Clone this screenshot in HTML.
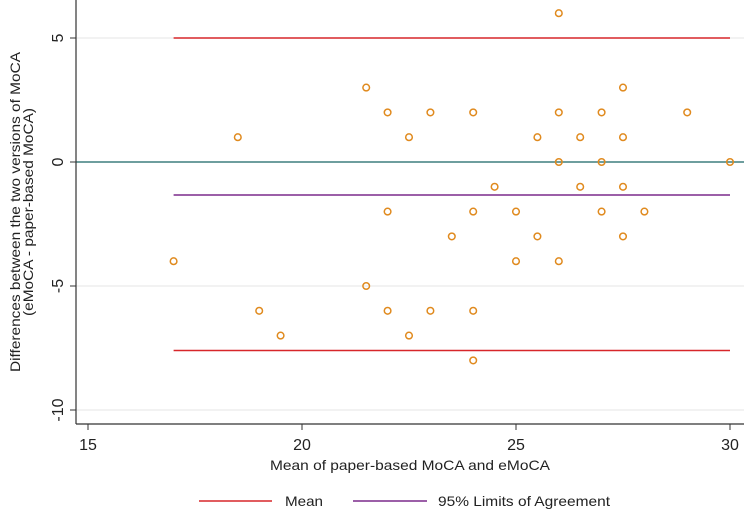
<!DOCTYPE html>
<html><head><meta charset="utf-8"><style>
body{margin:0;background:#fff;}
svg{display:block;font-family:"Liberation Sans",Arial,sans-serif;}
</style></head><body>
<svg id="chart" width="744" height="512">
<g id="grid"></g>
<g id="refs"></g>
<g id="pts"></g>
<g id="axes"></g>
<text x="270" y="470" font-size="14" textLength="280" lengthAdjust="spacingAndGlyphs" fill="#222">Mean of paper-based MoCA and eMoCA</text>
<g transform="translate(0,212) rotate(-90)">
<text x="0" y="20" text-anchor="middle" font-size="14" textLength="320" lengthAdjust="spacingAndGlyphs" fill="#222">Differences between the two versions of MoCA</text>
<text x="0" y="33" text-anchor="middle" font-size="14" textLength="208" lengthAdjust="spacingAndGlyphs" fill="#222">(eMoCA - paper-based MoCA)</text>
</g>
<g>
<g><line x1="199" y1="501" x2="272" y2="501" stroke="#d7262a" stroke-width="1.5"/><text x="285" y="506" font-size="14" textLength="38" lengthAdjust="spacingAndGlyphs" fill="#222">Mean</text></g>
<g><line x1="353" y1="501" x2="427" y2="501" stroke="#7b2a8c" stroke-width="1.5"/><text x="438" y="506" font-size="14" textLength="172" lengthAdjust="spacingAndGlyphs" fill="#222">95% Limits of Agreement</text></g>
</g>
</svg>
<script>
const xTicks=[15,20,25,30];
const yTicks=[5,0,-5,-10];
const meanX=[17,18.5,19,19.5,21.5,21.5,22,22,22,22.5,22.5,23,23,23.5,24,24,24,24,24.5,25,25,25.5,25.5,26,26,26,26,26.5,26.5,27,27,27,27.5,27.5,27.5,27.5,28,29,30];
const diffY=[-4,1,-6,-7,3,-5,2,-2,-6,1,-7,2,-6,-3,2,-2,-6,-8,-1,-2,-4,1,-3,6,2,0,-4,1,-1,2,0,-2,3,1,-1,-3,-2,2,0];
const upperLimit=[5];
const lowerLimit=[-7.6];
const meanDiff=[-1.33];
const lineRange=[17,30];
const NS="http://www.w3.org/2000/svg";
const sx=v=>88+(v-15)*42.8;
const sy=v=>162-v*24.8;
function mk(tag,attrs,parent){const e=document.createElementNS(NS,tag);for(const k in attrs)e.setAttribute(k,attrs[k]);parent.appendChild(e);return e;}
const grid=document.getElementById('grid'),refs=document.getElementById('refs'),pts=document.getElementById('pts'),axes=document.getElementById('axes');
yTicks.forEach(t=>{const l=mk('line',{x1:76,x2:744,y1:sy(t),y2:sy(t),stroke:'#e6e6e6','stroke-width':1},grid);

});
const zl=mk('line',{x1:76,x2:744,y1:sy(0),y2:sy(0),stroke:'#3f7f7f','stroke-width':1.5},refs);


[[upperLimit[0],'#d7262a','upper-limit-line'],[lowerLimit[0],'#d7262a','lower-limit-line'],[meanDiff[0],'#7b2a8c','mean-difference-line']].forEach(([v,c,n])=>{
const l=mk('line',{x1:sx(lineRange[0]),x2:sx(lineRange[1]),y1:sy(v),y2:sy(v),stroke:c,'stroke-width':1.5},refs);

});
meanX.forEach((x,i)=>{const c=mk('circle',{cx:sx(x),cy:sy(diffY[i]),r:3.3,fill:'none',stroke:'#e08a1e','stroke-width':1.5},pts);

});
mk('line',{x1:76,x2:76,y1:0,y2:424,stroke:'#333','stroke-width':1.2},axes);
mk('line',{x1:76,x2:744,y1:424,y2:424,stroke:'#333','stroke-width':1.2},axes);
xTicks.forEach(t=>{mk('line',{x1:sx(t),x2:sx(t),y1:424,y2:430,stroke:'#333'},axes);
const tx=mk('text',{x:sx(t),y:450,'text-anchor':'middle','font-size':16,fill:'#222'},axes);tx.textContent=t;

});
yTicks.forEach(t=>{mk('line',{x1:70,x2:76,y1:sy(t),y2:sy(t),stroke:'#333'},axes);
const tx=mk('text',{transform:`translate(63,${sy(t)}) rotate(-90)`,'text-anchor':'middle','font-size':16,fill:'#222'},axes);tx.textContent=t;

});
</script>
</body></html>
